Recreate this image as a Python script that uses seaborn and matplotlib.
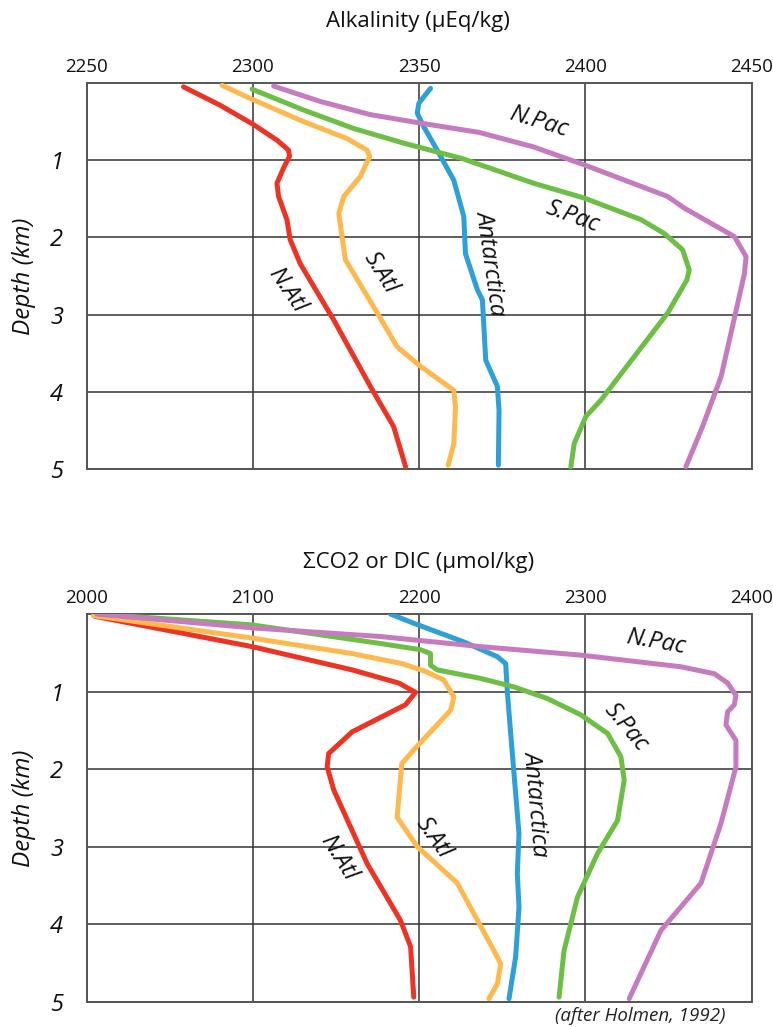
import numpy as np
import pandas as pd
import matplotlib
matplotlib.use("Agg")
import matplotlib.pyplot as plt
import seaborn as sns

# ---------------- data ----------------
regions = ["N.Atl", "S.Atl", "Antarctica", "S.Pac", "N.Pac"]
colors = {"N.Atl": "#ED3324", "S.Atl": "#FDB94D", "Antarctica": "#2D9FD9",
          "S.Pac": "#6CBE45", "N.Pac": "#C57BBE"}

# Alkalinity (uEq/kg) vs depth (km)
alk_natl_d = [0.05, 0.29, 0.54, 0.74, 0.87, 0.95, 1.10, 1.30, 1.47, 1.77, 2.03, 2.34, 3.07, 3.93, 4.45, 4.97]
alk_natl_v = [2279.1, 2290.2, 2300.2, 2307.2, 2310.7, 2311.0, 2309.2, 2307.2, 2307.7, 2310.2, 2311.2, 2314.2, 2324.3, 2335.3, 2342.3, 2345.9]
alk_satl_d = [0.03, 0.22, 0.50, 0.72, 0.87, 0.95, 1.21, 1.47, 1.69, 2.29, 2.90, 3.42, 3.67, 3.98, 4.19, 4.67, 4.95]
alk_satl_v = [2290.7, 2300.2, 2315.2, 2328.3, 2334.3, 2335.1, 2332.3, 2327.3, 2325.8, 2327.8, 2336.3, 2343.4, 2350.4, 2360.4, 2360.9, 2360.4, 2358.7]
alk_ant_d = [0.07, 0.26, 0.39, 0.57, 0.87, 1.26, 1.73, 2.21, 2.68, 2.81, 3.59, 3.93, 4.24, 4.95]
alk_ant_v = [2353.4, 2349.9, 2349.4, 2351.4, 2355.4, 2360.4, 2363.4, 2363.9, 2367.5, 2369.0, 2370.0, 2373.5, 2374.0, 2373.8]
alk_spac_d = [0.08, 0.35, 0.59, 0.78, 0.98, 1.30, 1.49, 1.77, 1.95, 2.16, 2.42, 2.55, 2.98, 4.11, 4.32, 4.67, 4.97]
alk_spac_v = [2299.7, 2315.2, 2330.3, 2345.4, 2363.0, 2384.5, 2399.6, 2416.7, 2423.7, 2429.2, 2431.2, 2430.5, 2424.7, 2404.6, 2400.1, 2396.6, 2395.6]
alk_npac_d = [0.04, 0.24, 0.41, 0.52, 0.64, 0.83, 1.06, 1.47, 1.62, 1.99, 2.25, 2.47, 3.80, 4.45, 4.97]
alk_npac_v = [2306.2, 2320.3, 2335.3, 2350.4, 2368.0, 2384.5, 2399.6, 2424.7, 2429.7, 2444.8, 2448.3, 2447.8, 2440.8, 2435.2, 2430.2]

# Sigma CO2 / DIC (umol/kg) vs depth (km)
dic_natl_d = [0.03, 0.42, 0.72, 0.89, 1.01, 1.17, 1.52, 1.80, 1.97, 2.27, 3.22, 3.95, 4.29, 4.94]
dic_natl_v = [2005.0, 2099.4, 2159.6, 2187.7, 2197.8, 2191.7, 2159.6, 2145.5, 2144.6, 2148.6, 2168.7, 2188.7, 2194.8, 2196.7]
dic_satl_d = [0.02, 0.31, 0.51, 0.64, 0.74, 0.85, 1.07, 1.24, 1.75, 1.93, 2.62, 3.00, 3.47, 4.34, 4.51, 4.77, 4.96]
dic_satl_v = [2004.0, 2099.4, 2159.6, 2189.8, 2203.8, 2214.8, 2220.8, 2218.9, 2196.8, 2189.5, 2186.7, 2198.8, 2222.9, 2244.9, 2249.0, 2247.0, 2241.9]
dic_ant_d = [0.00, 0.12, 0.36, 0.55, 0.64, 1.00, 1.54, 2.83, 3.35, 3.78, 4.42, 4.96]
dic_ant_v = [2182.7, 2196.8, 2226.9, 2247.0, 2252.0, 2253.0, 2255.0, 2260.0, 2259.0, 2260.0, 2258.0, 2254.0]
dic_spac_d = [0.00, 0.14, 0.38, 0.46, 0.51, 0.66, 0.72, 0.83, 0.94, 1.09, 1.30, 1.54, 1.84, 2.14, 2.66, 3.09, 3.65, 4.34, 4.94]
dic_spac_v = [2007.0, 2099.4, 2176.7, 2200.8, 2206.8, 2206.8, 2210.8, 2236.9, 2257.0, 2277.1, 2297.2, 2313.3, 2321.3, 2323.3, 2319.3, 2307.2, 2295.2, 2287.1, 2284.1]
dic_npac_d = [0.00, 0.18, 0.29, 0.42, 0.53, 0.68, 0.77, 0.89, 1.05, 1.17, 1.26, 1.43, 1.63, 1.97, 2.70, 3.47, 4.08, 4.96]
dic_npac_v = [2006.0, 2100.4, 2176.7, 2236.9, 2297.2, 2357.4, 2377.5, 2385.5, 2390.5, 2389.5, 2385.5, 2384.5, 2390.5, 2390.5, 2381.5, 2369.5, 2345.4, 2326.3]

alk_ticks = [2250, 2300, 2350, 2400, 2450]
dic_ticks = [2000, 2100, 2200, 2300, 2400]
depth_ticks = [1, 2, 3, 4, 5]


def long_frame(parts):
    rows = []
    for name, d, v in parts:
        for i, (dd, vv) in enumerate(zip(d, v)):
            rows.append({"region": name, "depth": dd, "value": vv, "order": i})
    return pd.DataFrame(rows)


alk_df = long_frame([("N.Atl", alk_natl_d, alk_natl_v), ("S.Atl", alk_satl_d, alk_satl_v),
                     ("Antarctica", alk_ant_d, alk_ant_v), ("S.Pac", alk_spac_d, alk_spac_v),
                     ("N.Pac", alk_npac_d, alk_npac_v)])
dic_df = long_frame([("N.Atl", dic_natl_d, dic_natl_v), ("S.Atl", dic_satl_d, dic_satl_v),
                     ("Antarctica", dic_ant_d, dic_ant_v), ("S.Pac", dic_spac_d, dic_spac_v),
                     ("N.Pac", dic_npac_d, dic_npac_v)])

# ---------------- style ----------------
sns.set_theme(style="white")
FAM = ["Open Sans", "DejaVu Sans"]
plt.rcParams["font.family"] = FAM
plt.rcParams["text.color"] = "#111111"
plt.rcParams["xtick.color"] = "#111111"
plt.rcParams["ytick.color"] = "#111111"
plt.rcParams["axes.labelcolor"] = "#111111"

fig = plt.figure(figsize=(7.73, 10.27), dpi=100)
ax1 = fig.add_axes([0.1122, 0.5433, 0.8603, 0.3759])
ax2 = fig.add_axes([0.1122, 0.0246, 0.8603, 0.3775])


def style_axes(ax, df, ticks):
    sns.lineplot(data=df, x="value", y="depth", hue="region", hue_order=regions,
                 palette=colors, sort=False, estimator=None, units="region",
                 lw=3.6, legend=False, ax=ax, zorder=3)
    for ln in ax.lines:
        ln.set_solid_joinstyle("round")
        ln.set_solid_capstyle("round")
    ax.set_xlim(ticks[0], ticks[-1])
    ax.set_ylim(5, 0)
    ax.xaxis.tick_top()
    ax.set_xticks(ticks)
    ax.set_xticklabels([str(t) for t in ticks], fontsize=13.5)
    ax.set_yticks(depth_ticks)
    ax.set_yticklabels([str(t) for t in depth_ticks], fontsize=17, style="italic")
    ax.tick_params(axis="x", length=0, pad=5)
    ax.tick_params(axis="y", length=0, pad=17)
    ax.grid(True, color="#333333", lw=1.1)
    ax.set_axisbelow(True)
    for s in ax.spines.values():
        s.set_color("#555555")
        s.set_linewidth(1.4)
    ax.set_xlabel("")
    ax.set_ylabel("Depth (km)", fontsize=17.5, style="italic", labelpad=10)


style_axes(ax1, alk_df, alk_ticks)
style_axes(ax2, dic_df, dic_ticks)

fig.text(0.541, 0.979, "Alkalinity (\u03bcEq/kg)", ha="center", va="center", fontsize=16)
fig.text(0.541, 0.452, "\u03a3CO2 or DIC (\u03bcmol/kg)", ha="center", va="center", fontsize=16)

lab_kw = dict(ha="center", va="center", fontsize=17, style="italic", color="#111111", zorder=4)
# alkalinity labels
ax1.text(2385.9, 0.50, "N.Pac", rotation=-17, **lab_kw)
ax1.text(2396.1, 1.73, "S.Pac", rotation=-20, **lab_kw)
ax1.text(2371.5, 2.33, "Antarctica", rotation=-82, **lab_kw)
ax1.text(2338.3, 2.46, "S.Atl", rotation=-58, **lab_kw)
ax1.text(2310.2, 2.68, "N.Atl", rotation=-56, **lab_kw)
# DIC labels
ax2.text(2342.3, 0.37, "N.Pac", rotation=-10, **lab_kw)
ax2.text(2324.3, 1.46, "S.Pac", rotation=-50, **lab_kw)
ax2.text(2270.0, 2.44, "Antarctica", rotation=-85, **lab_kw)
ax2.text(2208.6, 2.89, "S.Atl", rotation=-55, **lab_kw)
ax2.text(2151.4, 3.14, "N.Atl", rotation=-58, **lab_kw)

fig.text(0.828, 0.011, "(after Holmen, 1992)", ha="center", va="center",
         fontsize=13.5, style="italic", color="#222222")

fig.savefig("out.png", dpi=100)
